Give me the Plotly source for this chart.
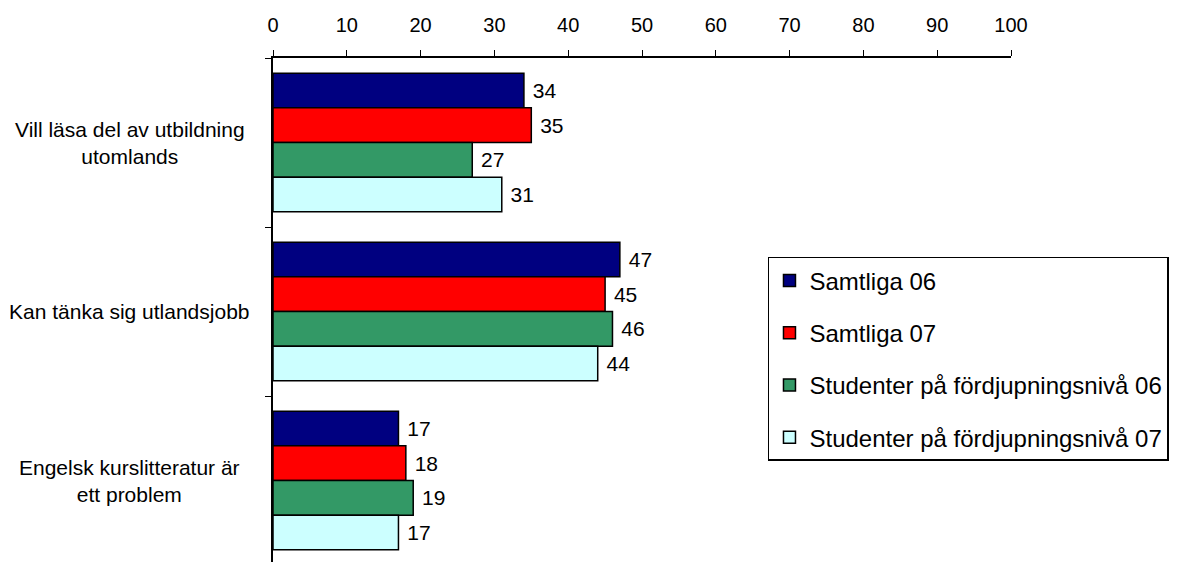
import plotly.graph_objects as go

categories = [
    "Vill läsa del av utbildning<br>utomlands",
    "Kan tänka sig utlandsjobb",
    "Engelsk kurslitteratur är<br>ett problem",
]
series_names = [
    "Samtliga 06",
    "Samtliga 07",
    "Studenter på fördjupningsnivå 06",
    "Studenter på fördjupningsnivå 07",
]
samtliga_06 = [34, 47, 17]
samtliga_07 = [35, 45, 18]
studenter_06 = [27, 46, 19]
studenter_07 = [31, 44, 17]
x_ticks = list(range(0, 101, 10))

colors = ["#000080", "#FF0000", "#339966", "#CCFFFF"]
FONT = "Liberation Sans, Arial, sans-serif"

fig = go.Figure()
for name, vals, col in zip(series_names,
                           [samtliga_06, samtliga_07, studenter_06, studenter_07],
                           colors):
    fig.add_trace(go.Bar(
        y=categories, x=vals, name=name, orientation="h",
        marker=dict(color=col, line=dict(color="black", width=1.5)),
        texttemplate="\u00a0%{x}", textposition="outside",
        textfont=dict(size=21, color="black", family=FONT),
        cliponaxis=False, legendgroup=name,
    ))

# category labels, centred like the original
for c in categories:
    fig.add_annotation(
        x=-0.194, xref="paper", y=c, yref="y", text=c,
        showarrow=False, xanchor="center", align="center",
        font=dict(size=21, color="black", family=FONT),
    )

fig.update_layout(
    width=1184, height=562,
    paper_bgcolor="white", plot_bgcolor="white",
    font=dict(family=FONT, color="black", size=20),
    margin=dict(t=50, b=5, l=265, r=181),
    barmode="group", bargap=0.18, bargroupgap=0,
    xaxis=dict(side="top", range=[0, 100], tickvals=x_ticks,
               ticks="outside", ticklen=6, tickcolor="black",
               ticklabelstandoff=10,
               showline=True, linecolor="black", linewidth=1.5,
               showgrid=False, zeroline=False,
               tickfont=dict(size=20)),
    yaxis=dict(autorange="reversed", showticklabels=False,
               ticks="outside", tickson="boundaries", ticklen=6,
               tickcolor="black", showline=True, linecolor="black",
               linewidth=1.5, showgrid=False),
    legend=dict(x=0.6707, y=0.6075, xanchor="left", yanchor="top",
                bordercolor="black", borderwidth=1.5, bgcolor="white",
                traceorder="grouped", tracegroupgap=18,
                font=dict(size=24, family=FONT)),
)

fig.write_html("out.html")
